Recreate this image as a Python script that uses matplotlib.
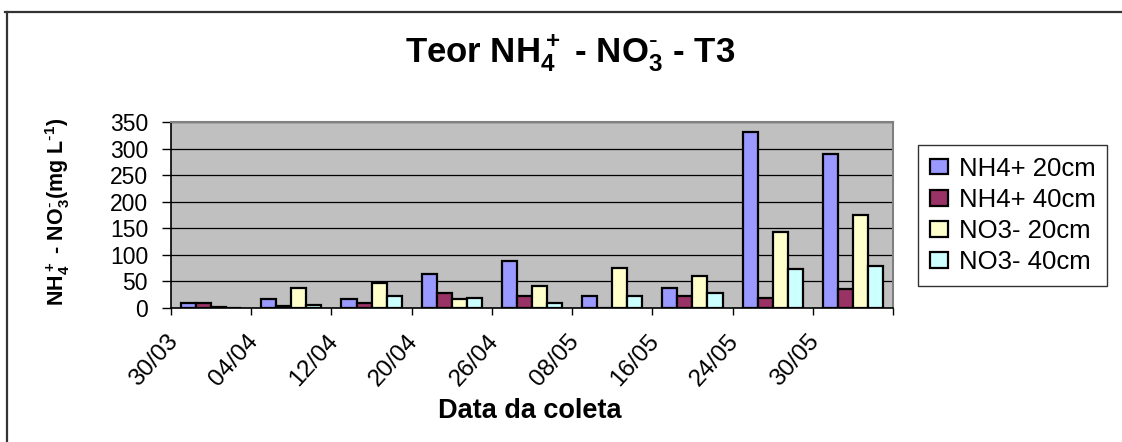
"""Teor NH4+ / NO3- (T3): grouped bars per collection date, Excel-style."""

import numpy as np
import matplotlib.pyplot as plt
from matplotlib.lines import Line2D
from matplotlib.transforms import ScaledTranslation

plt.rcParams["font.family"] = ["Liberation Sans", "DejaVu Sans"]
plt.rcParams["mathtext.default"] = "regular"

dates = ["30/03", "04/04", "12/04", "20/04", "26/04", "08/05", "16/05", "24/05", "30/05"]
nh4_20 = [9, 16, 16, 64, 89, 22, 38, 332, 290]
nh4_40 = [9, 3, 9, 29, 22, 0, 22, 18, 35]
no3_20 = [2, 38, 47, 16, 41, 76, 60, 143, 175]
no3_40 = [0, 6, 22, 19, 9, 22, 28, 73, 79]
series_names = ["NH4+ 20cm", "NH4+ 40cm", "NO3- 20cm", "NO3- 40cm"]
series_colors = ["#9999FF", "#993366", "#FFFFCC", "#CCFFFF"]
y_ticks = [0, 50, 100, 150, 200, 250, 300, 350]

W, H = 1122, 442
BAR_W = 0.1875


def main():
    fig = plt.figure(figsize=(W / 100, H / 100), dpi=100)
    ax = fig.add_axes([171 / W, 1 - 308 / H, (893 - 171) / W, (308 - 122) / H])
    ax.set_facecolor("#C0C0C0")

    x = np.arange(len(dates))
    handles = []
    for k, (vals, c, name) in enumerate(zip([nh4_20, nh4_40, no3_20, no3_40],
                                            series_colors, series_names)):
        b = ax.bar(x + (k - 1.5) * BAR_W, vals, BAR_W, color=c, edgecolor="black",
                   linewidth=1.6, label=name, zorder=3)
        handles.append(b)

    ax.set_xlim(-0.5, len(dates) - 0.5)
    ax.set_ylim(0, 350)
    ax.set_yticks(y_ticks)
    ax.set_yticklabels([str(v) for v in y_ticks], fontsize=16.5)
    ax.tick_params(axis="y", direction="out", length=6.5, width=1, pad=10)
    ax.yaxis.grid(True, color="black", linewidth=0.9, zorder=1)
    ax.set_axisbelow(True)

    # ticks on category boundaries, labels on category centres
    ax.set_xticks(np.arange(len(dates) + 1) - 0.5)
    ax.set_xticklabels([])
    ax.tick_params(axis="x", which="major", direction="out", length=5, width=1)
    ax.set_xticks(x, minor=True)
    ax.set_xticklabels(dates, minor=True, fontsize=17.5, rotation=48, ha="right", va="top")
    ax.tick_params(axis="x", which="minor", length=0, pad=16)
    shift = ScaledTranslation(-29 / 100, 0, fig.dpi_scale_trans)
    for lab in ax.get_xticklabels(minor=True):
        lab.set_transform(lab.get_transform() + shift)

    for s in ("left", "bottom"):
        ax.spines[s].set_color("black"); ax.spines[s].set_linewidth(1.2)
    for s in ("top", "right"):
        ax.spines[s].set_color("#808080"); ax.spines[s].set_linewidth(1.5)

    fig.text(570 / W, 1 - 63 / H, r"Teor NH$_4^+$ - NO$_3^{\text{-}}$ - T3", fontsize=25,
             fontweight="bold", ha="center", va="baseline")
    fig.text(530 / W, 1 - 418 / H, "Data da coleta", fontsize=19.5,
             fontweight="bold", ha="center", va="baseline")
    fig.text(58 / W, 1 - 212 / H, r"NH$_4^+$ - NO$_3^{\text{-}}$(mg L$^{\text{-}1}$)",
             fontsize=15.5, fontweight="bold", rotation=90, ha="center", va="center")

    leg = fig.legend(handles, series_names, loc="upper left",
                     bbox_to_anchor=(918 / W, 1 - 145 / H), fontsize=18.5,
                     frameon=True, fancybox=False, shadow=False, borderpad=0.45,
                     labelspacing=0.28, handlelength=0.72, handleheight=0.58,
                     handletextpad=0.42, borderaxespad=0)
    leg.get_frame().set_edgecolor("black")
    leg.get_frame().set_linewidth(1.0)

    # page frame around the chart object
    fig.add_artist(Line2D([5 / W, 1], [1 - 12 / H] * 2, color="#333333", lw=1.6))
    fig.add_artist(Line2D([7 / W] * 2, [1 - 12 / H, 0], color="#333333", lw=1.6))

    fig.savefig("out.png", dpi=100)


if __name__ == "__main__":
    main()
